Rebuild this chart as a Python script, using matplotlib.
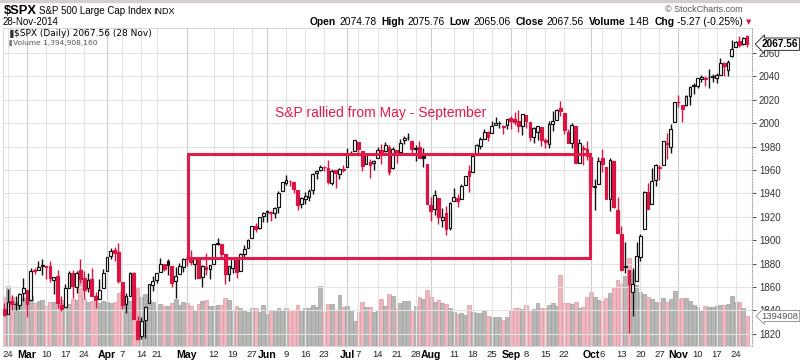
import numpy as np
import pandas as pd
import matplotlib
matplotlib.use("Agg")
import matplotlib.pyplot as plt
from matplotlib.patches import Rectangle
import matplotlib.transforms as mtransforms

plt.rcParams['font.family'] = ['Liberation Sans', 'DejaVu Sans']

# ---------------- data ----------------
holidays = ['2014-04-18', '2014-05-26', '2014-07-04', '2014-09-01', '2014-11-27']
dates = pd.bdate_range('2014-02-21', '2014-11-28')
dates = dates[~dates.isin(pd.to_datetime(holidays))]

prev_close = 1839.78  # close of 2014-02-20

open_p = [
    1841.07, 1836.78, 1847.66, 1845.79, 1844.90, 1855.12,
    1857.68, 1849.23, 1874.05, 1874.18, 1878.52, 1877.86, 1878.26, 1866.15, 1869.06, 1845.07, 1842.81, 1858.92, 1872.25, 1860.09, 1874.53, 1867.67, 1859.48, 1867.09, 1852.11, 1850.07, 1859.16,
    1873.96, 1886.61, 1891.43, 1890.25, 1863.92, 1845.48, 1852.64, 1872.28, 1830.65, 1818.18, 1831.45, 1846.01, 1861.73, 1865.79, 1872.57, 1879.32, 1881.97, 1877.72, 1865.00, 1870.78, 1877.10,
    1884.39, 1885.30, 1879.45, 1883.69, 1868.53, 1877.39, 1875.27, 1880.03, 1896.75, 1897.13, 1888.16, 1871.19, 1876.66, 1884.88, 1873.34, 1888.19, 1893.32, 1902.01, 1911.77, 1910.60, 1920.33,
    1923.87, 1923.07, 1923.06, 1928.52, 1942.41, 1948.97, 1950.34, 1949.37, 1943.35, 1930.80, 1934.84, 1937.15, 1942.73, 1957.50, 1960.45, 1962.92, 1961.97, 1949.27, 1959.89, 1956.56, 1960.79,
    1962.29, 1973.06, 1975.88, 1984.22, 1976.39, 1965.10, 1966.67, 1965.76, 1969.86, 1977.36, 1976.35, 1979.75, 1961.54, 1976.93, 1975.65, 1985.32, 1988.07, 1984.60, 1978.25, 1980.03, 1973.21, 1965.14,
    1929.80, 1926.62, 1936.34, 1917.29, 1923.03, 1910.35, 1933.43, 1935.73, 1935.60, 1947.41, 1958.87, 1958.36, 1972.73, 1980.46, 1986.82, 1992.60, 1991.74, 1998.59, 2000.54, 1997.42, 1998.45,
    2004.07, 2003.57, 2001.67, 1998.00, 2007.17, 2000.73, 1988.41, 1992.85, 1996.74, 1986.04, 1981.93, 1999.30, 2003.07, 2012.74, 2009.08, 1992.78, 1983.34, 1997.32, 1966.22, 1978.96, 1978.21,
    1971.44, 1945.83, 1948.12, 1970.01, 1962.36, 1935.55, 1967.68, 1925.63, 1905.65, 1877.11, 1874.18, 1855.95, 1864.91, 1885.62, 1909.38, 1941.29, 1931.02, 1951.59, 1962.97, 1964.14, 1983.29, 1979.49, 2001.20,
    2018.21, 2015.81, 2015.29, 2023.33, 2032.36, 2032.01, 2038.20, 2037.75, 2039.21, 2039.74, 2038.29, 2041.48, 2051.16, 2045.87, 2057.46, 2065.07, 2070.15, 2067.36, 2074.78,
]
high_p = [
    1846.13, 1858.71, 1852.91, 1852.65, 1854.53, 1867.92,
    1857.68, 1876.23, 1876.53, 1881.94, 1883.57, 1877.87, 1882.35, 1868.38, 1874.40, 1852.44, 1862.30, 1873.76, 1874.14, 1873.49, 1883.97, 1873.34, 1871.87, 1875.92, 1855.55, 1866.63, 1875.18,
    1885.84, 1893.17, 1893.80, 1897.28, 1864.04, 1854.95, 1872.43, 1872.53, 1835.07, 1834.19, 1844.02, 1862.31, 1869.63, 1871.89, 1884.89, 1879.75, 1884.06, 1877.72, 1877.01, 1880.60, 1885.20,
    1888.59, 1891.33, 1885.51, 1883.69, 1878.83, 1889.07, 1878.57, 1897.13, 1902.17, 1897.13, 1888.16, 1878.28, 1886.00, 1884.88, 1888.80, 1896.33, 1901.26, 1912.28, 1914.46, 1920.03, 1924.03,
    1925.88, 1924.97, 1928.63, 1941.74, 1949.44, 1955.55, 1951.86, 1949.37, 1943.35, 1937.30, 1941.15, 1943.69, 1957.74, 1959.87, 1963.91, 1963.74, 1968.17, 1960.83, 1959.89, 1961.47, 1964.24,
    1978.58, 1976.67, 1985.59, 1984.22, 1976.39, 1974.15, 1969.84, 1968.67, 1979.85, 1982.52, 1983.94, 1981.80, 1979.91, 1976.93, 1986.24, 1989.23, 1991.39, 1984.60, 1981.52, 1984.85, 1978.90, 1965.14,
    1937.35, 1942.92, 1936.34, 1927.91, 1928.89, 1932.38, 1944.90, 1939.65, 1948.41, 1955.23, 1964.04, 1971.99, 1982.57, 1988.57, 1994.76, 1993.54, 2001.95, 2005.04, 2002.14, 1998.55, 2003.38,
    2006.12, 2009.28, 2011.17, 2007.71, 2007.17, 2001.01, 1996.66, 1997.65, 1996.74, 1987.18, 2002.28, 2010.74, 2012.34, 2019.26, 2009.08, 1995.41, 1999.79, 1997.32, 1986.37, 1981.28, 1985.17,
    1971.44, 1952.32, 1971.19, 1977.84, 1962.36, 1970.36, 1967.68, 1936.98, 1912.09, 1898.71, 1874.18, 1876.01, 1898.16, 1905.03, 1942.45, 1949.31, 1961.95, 1965.27, 1964.64, 1985.05, 1991.40, 1999.40, 2018.19,
    2024.46, 2015.98, 2023.77, 2031.61, 2034.26, 2038.70, 2041.28, 2040.33, 2046.18, 2042.22, 2043.07, 2056.08, 2052.14, 2053.84, 2071.46, 2070.17, 2074.21, 2073.29, 2075.76,
]
low_p = [
    1835.60, 1836.78, 1840.19, 1840.66, 1841.13, 1847.67,
    1834.44, 1849.23, 1871.11, 1874.18, 1870.56, 1867.04, 1863.88, 1854.38, 1841.86, 1839.57, 1842.81, 1858.92, 1850.35, 1854.63, 1863.46, 1849.69, 1855.96, 1852.56, 1842.11, 1850.07, 1859.16,
    1873.96, 1883.79, 1882.65, 1863.26, 1841.48, 1837.49, 1852.38, 1833.08, 1814.36, 1815.80, 1816.29, 1846.01, 1856.72, 1863.18, 1872.57, 1873.91, 1870.24, 1859.70, 1850.61, 1870.78, 1872.69,
    1878.04, 1878.50, 1866.77, 1867.72, 1859.79, 1870.05, 1867.02, 1880.03, 1896.06, 1885.77, 1862.36, 1864.82, 1872.42, 1868.14, 1873.34, 1885.39, 1893.32, 1902.01, 1907.30, 1909.82, 1915.98,
    1915.98, 1916.64, 1918.60, 1922.93, 1942.41, 1947.16, 1946.34, 1940.08, 1925.78, 1927.69, 1930.91, 1933.55, 1939.29, 1952.26, 1959.17, 1958.89, 1948.34, 1947.49, 1944.69, 1952.18, 1958.22,
    1962.29, 1972.58, 1975.88, 1974.88, 1959.46, 1965.10, 1952.86, 1959.63, 1969.86, 1965.34, 1975.67, 1955.59, 1960.82, 1965.77, 1975.65, 1982.44, 1985.79, 1974.37, 1967.31, 1969.95, 1962.42, 1930.67,
    1916.37, 1921.20, 1913.77, 1911.45, 1904.78, 1909.01, 1933.43, 1928.29, 1935.60, 1947.41, 1941.50, 1958.36, 1972.73, 1977.68, 1986.82, 1984.76, 1991.74, 1998.59, 1996.20, 1990.52, 1994.65,
    1994.85, 1998.14, 1992.54, 1990.10, 1995.60, 1984.61, 1982.99, 1985.93, 1980.26, 1978.48, 1979.06, 1993.29, 2003.07, 2006.59, 1991.01, 1982.77, 1978.63, 1965.99, 1966.22, 1964.04, 1968.96,
    1941.72, 1926.03, 1948.12, 1958.43, 1935.10, 1925.25, 1927.56, 1906.05, 1874.14, 1871.79, 1820.66, 1835.02, 1864.91, 1882.30, 1909.38, 1926.83, 1931.02, 1946.27, 1951.37, 1964.14, 1969.04, 1974.75, 2001.20,
    2013.68, 2001.01, 2014.42, 2015.86, 2025.07, 2030.17, 2035.28, 2031.95, 2030.44, 2035.20, 2034.46, 2041.48, 2040.37, 2040.49, 2056.75, 2065.07, 2064.75, 2066.62, 2065.06,
]
close_p = [
    1836.25, 1847.61, 1845.12, 1845.16, 1854.29, 1859.45,
    1845.73, 1873.91, 1873.81, 1877.03, 1878.04, 1877.17, 1867.63, 1868.20, 1846.34, 1841.13, 1858.83, 1872.25, 1860.77, 1872.01, 1866.52, 1857.44, 1865.62, 1852.56, 1849.04, 1857.62, 1872.34,
    1885.52, 1890.90, 1888.77, 1865.09, 1845.04, 1851.96, 1872.18, 1833.08, 1815.69, 1830.61, 1842.98, 1862.31, 1864.85, 1871.89, 1879.55, 1875.39, 1878.61, 1863.40, 1869.43, 1878.33, 1883.95,
    1883.68, 1881.14, 1884.66, 1867.72, 1878.21, 1875.63, 1878.48, 1896.65, 1897.45, 1888.53, 1870.85, 1877.86, 1885.08, 1872.83, 1888.03, 1892.49, 1900.53, 1911.91, 1909.78, 1920.03, 1923.57,
    1924.97, 1924.24, 1927.88, 1940.46, 1949.44, 1951.27, 1950.79, 1943.89, 1930.11, 1936.16, 1937.78, 1941.99, 1956.98, 1959.48, 1962.87, 1962.61, 1949.98, 1959.53, 1957.22, 1960.96, 1960.23,
    1973.32, 1974.62, 1985.44, 1977.65, 1963.71, 1972.83, 1964.68, 1967.57, 1977.10, 1973.28, 1981.57, 1958.12, 1978.22, 1973.63, 1983.53, 1987.01, 1987.98, 1978.34, 1978.91, 1969.95, 1970.07, 1930.67,
    1925.15, 1938.99, 1920.21, 1920.24, 1909.57, 1931.59, 1936.92, 1933.75, 1946.72, 1955.18, 1955.06, 1971.74, 1981.60, 1986.51, 1992.37, 1988.40, 1997.92, 2000.02, 2000.12, 1996.74, 2003.37,
    2002.28, 2000.72, 1997.65, 2007.71, 2001.54, 1988.44, 1995.69, 1997.45, 1985.54, 1984.13, 1998.98, 2001.57, 2011.36, 2010.40, 1994.29, 1982.77, 1998.30, 1965.99, 1982.85, 1977.80, 1972.29,
    1946.16, 1946.17, 1967.90, 1964.82, 1935.10, 1968.89, 1928.21, 1906.13, 1874.74, 1877.70, 1862.49, 1862.76, 1886.76, 1904.01, 1941.28, 1927.11, 1950.82, 1964.58, 1961.63, 1985.05, 1982.30, 1994.65, 2018.05,
    2017.81, 2012.10, 2023.57, 2031.21, 2031.92, 2038.26, 2039.68, 2038.25, 2039.33, 2039.82, 2041.32, 2051.80, 2048.72, 2052.75, 2063.50, 2069.41, 2067.03, 2072.83, 2067.56,
]
volume_b = [  # billions of shares
    2.28, 2.79, 2.28, 2.05, 2.00, 2.23,
    2.14, 2.33, 2.00, 2.09, 2.14, 1.86, 2.05, 2.05, 2.33, 2.14, 2.00, 1.95, 2.19, 2.14, 3.53, 2.19, 2.05, 2.09, 2.05, 2.00, 2.09,
    2.05, 2.00, 2.05, 2.47, 2.56, 2.23, 2.09, 2.60, 2.70, 2.28, 2.42, 2.14, 2.05, 1.67, 1.95, 1.86, 1.86, 2.00, 2.19, 1.91, 2.05,
    2.00, 1.86, 1.67, 1.95, 2.09, 2.14, 1.86, 1.86, 1.91, 1.91, 2.23, 2.14, 1.67, 1.86, 1.77, 1.67, 1.58, 1.77, 1.77, 1.58, 1.91,
    1.47, 1.67, 1.67, 1.77, 1.63, 1.75, 1.67, 1.67, 1.91, 1.67, 1.77, 1.75, 1.91, 1.81, 2.79, 1.58, 1.94, 1.94, 1.67, 2.37, 1.80,
    1.86, 1.67, 1.16, 1.58, 2.03, 1.81, 1.81, 1.57, 1.67, 2.17, 1.86, 2.42, 2.33, 1.72, 2.00, 2.09, 2.09, 1.67, 1.86, 2.28, 2.19, 2.60,
    2.28, 2.05, 2.14, 2.00, 1.95, 1.77, 1.58, 1.49, 1.53, 1.44, 1.91, 1.58, 1.53, 1.53, 1.63, 1.40, 1.35, 1.35, 1.35, 1.21, 1.35,
    1.67, 1.77, 1.77, 1.72, 1.91, 1.67, 1.72, 2.00, 1.77, 1.77, 1.91, 2.00, 1.86, 3.30, 2.00, 2.00, 1.95, 2.05, 1.77, 1.81, 2.28,
    2.51, 2.28, 2.14, 2.09, 2.23, 2.47, 2.70, 3.07, 2.88, 3.26, 4.09, 3.49, 2.84, 2.51, 2.42, 2.28, 2.19, 2.05, 2.05, 2.23, 2.05, 2.19, 2.56,
    2.19, 2.23, 2.23, 2.09, 1.91, 1.81, 1.67, 1.86, 1.81, 1.81, 1.86, 1.91, 1.91, 1.95, 2.33, 2.05, 2.05, 1.77, 1.394908,
]

tick_dates = ['2014-02-24', '2014-03-03', '2014-03-10', '2014-03-17', '2014-03-24', '2014-04-01',
              '2014-04-07', '2014-04-14', '2014-04-21', '2014-05-01', '2014-05-12', '2014-05-19',
              '2014-05-27', '2014-06-02', '2014-06-09', '2014-06-16', '2014-06-23', '2014-07-01',
              '2014-07-07', '2014-07-14', '2014-07-21', '2014-07-28', '2014-08-01', '2014-08-11',
              '2014-08-18', '2014-08-25', '2014-09-02', '2014-09-08', '2014-09-15', '2014-09-22',
              '2014-10-01', '2014-10-06', '2014-10-13', '2014-10-20', '2014-10-27', '2014-11-03',
              '2014-11-10', '2014-11-17', '2014-11-24']
tick_labels = ['24', 'Mar', '10', '17', '24', 'Apr', '7', '14', '21', 'May', '12', '19', '27',
               'Jun', '9', '16', '23', 'Jul', '7', '14', '21', '28', 'Aug', '11', '18', '25',
               'Sep', '8', '15', '22', 'Oct', '6', '13', '20', '27', 'Nov', '10', '17', '24']
price_ticks = [1820, 1840, 1860, 1880, 1900, 1920, 1940, 1960, 1980, 2000, 2020, 2040, 2060]

# ---------------- figure ----------------
W, H = 800, 361
fig = plt.figure(figsize=(W / 100, H / 100), dpi=100)
fig.patch.set_facecolor('white')

def fx(px):
    return px / W

def fy(py):
    return 1 - py / H

L_PX, R_PX, T_PX, B_PX = 3, 752, 28, 346
pos = [fx(L_PX), fy(B_PX), fx(R_PX) - fx(L_PX), fy(T_PX) - fy(B_PX)]

o = np.array(open_p); h = np.array(high_p); l = np.array(low_p); c = np.array(close_p)
v = np.array(volume_b)
n = len(c)
x = np.arange(n)
pc = np.concatenate([[prev_close], c[:-1]])
down_day = c < pc

RED = '#dc1443'
BOX_RED = '#e31b4c'

# volume axis (underneath)
axv = fig.add_axes(pos)
vcol = np.where(down_day, '#f0b6c0', '#b6b8b6')
vedge = np.where(down_day, '#e098a5', '#9fa19f')
axv.bar(x, v, width=1.0, color=vcol, edgecolor=vedge, linewidth=0.5, zorder=2)
axv.set_ylim(0, (B_PX - T_PX) / 21.5)
axv.set_xlim(-0.31, 196.3)
axv.axis('off')

# price axis (on top)
ax = fig.add_axes(pos, sharex=axv)
ax.patch.set_visible(False)
ax.set_xlim(-0.31, 196.3)
ax.set_ylim(1809.6, 2081.4)

tick_pos = [dates.get_loc(pd.Timestamp(d)) for d in tick_dates]
for tp, tl in zip(tick_pos, tick_labels):
    is_month = not tl.isdigit()
    ax.axvline(tp, color='#cdcdcd' if is_month else '#e3e3e3', lw=0.8, zorder=1)
for pt in price_ticks:
    ax.axhline(pt, color='#e3e3e3', lw=0.8, zorder=1)

# candles
ccol = np.where(down_day, RED, '#111111')
face = np.where(c < o, ccol, 'white')
ax.vlines(x, l, h, colors=ccol, lw=1.0, zorder=3)
body_low = np.minimum(o, c)
body_h = np.maximum(np.abs(c - o), 0.35)
ax.bar(x, body_h, bottom=body_low, width=0.72, color=face, edgecolor=ccol,
       linewidth=0.85, zorder=4)

# annotation box and text
rx0, rx1, ry0, ry1 = 48.3, 153.9, 1884.7, 1973.5
ax.add_patch(Rectangle((rx0, ry0), rx1 - rx0, ry1 - ry0, fill=False,
                       edgecolor=BOX_RED, lw=2.2, zorder=5))
ax.text(71.1, 2009.0, 'S&P rallied from May - September', color=BOX_RED,
        fontsize=10, ha='left', va='center', zorder=6)

# axes styling
ax.yaxis.tick_right()
ax.set_yticks(price_ticks)
ax.set_yticklabels([str(t) for t in price_ticks])
ax.tick_params(axis='y', labelsize=7, colors='#333333', length=3, width=0.6, pad=2)
ax.set_xticks(tick_pos)
ax.set_xticklabels(tick_labels)
ax.tick_params(axis='x', length=0, pad=3, labelsize=6.8, colors='#222222')
for lab in ax.get_xticklabels():
    if not lab.get_text().isdigit():
        lab.set_fontweight('bold')
        lab.set_fontsize(7.6)
        lab.set_color('black')
for side in ['left', 'top', 'bottom']:
    ax.spines[side].set_color('#d0d0d0')
    ax.spines[side].set_linewidth(0.6)
ax.spines['right'].set_color('#aaaaaa')
ax.spines['right'].set_linestyle((0, (1, 1.5)))
ax.spines['right'].set_linewidth(0.8)

# right-side value flags (drawn on the top axes so they cover tick labels)
tr = mtransforms.blended_transform_factory(ax.transAxes, ax.transData)
ax.text(1.013, c[-1], f'{c[-1]:.2f}', transform=tr, ha='left', va='center',
        fontsize=7.2, fontweight='bold', color='black', zorder=10, clip_on=False,
        bbox=dict(boxstyle='larrow,pad=0.12', fc='white', ec='#333333', lw=0.7))
trv = mtransforms.blended_transform_factory(ax.transAxes, axv.transData)
ax.text(1.013, v[-1], f'{v[-1] * 1e6:.0f}', transform=trv, ha='left', va='center',
        fontsize=6.8, color='#555555', zorder=10, clip_on=False,
        bbox=dict(boxstyle='larrow,pad=0.1', fc='white', ec='#888888', lw=0.6))

# ---------------- header texts ----------------
fig.patches.append(Rectangle((0, fy(2)), 1, 2 / H, transform=fig.transFigure,
                             color='#d3ccd3', zorder=0))
fig.text(fx(4), fy(11), '$SPX', fontsize=9.3, fontweight='bold', va='center', ha='left')
fig.text(fx(39), fy(11), 'S&P 500 Large Cap Index', fontsize=7, va='center', ha='left')
fig.text(fx(153), fy(11), 'INDX', fontsize=6.5, va='center', ha='left')
fig.text(fx(3), fy(22), '28-Nov-2014', fontsize=7, va='center', ha='left')
fig.text(fx(743), fy(10), '\u00a9 StockCharts.com', fontsize=6.5, va='center', ha='right',
         color='#555555')

renderer = fig.canvas.get_renderer()
pieces = [('Open', True), ('2074.78', False), ('High', True), ('2075.76', False),
          ('Low', True), ('2065.06', False), ('Close', True), ('2067.56', False),
          ('Volume', True), ('1.4B', False), ('Chg', True), ('-5.27 (-0.25%)', False)]
xr = 743
fig.text(fx(751), fy(22), '\u25bc', fontsize=5, color=RED, va='center', ha='right',
         family=['DejaVu Sans'])
for s, bold in reversed(pieces):
    t = fig.text(fx(xr), fy(22), s, fontsize=7.4, fontweight='bold' if bold else 'normal',
                 va='center', ha='right', color='black')
    wpx = t.get_window_extent(renderer).width
    gap = 3 if not bold else 5
    xr -= wpx + gap

# inside-panel legend texts
fig.text(fx(7), fy(34), '\u2590', fontsize=6, va='center', ha='left', color='#333333',
         family=['DejaVu Sans'])
fig.text(fx(14), fy(34), '$SPX (Daily) 2067.56 (28 Nov)', fontsize=6.5, va='center', ha='left',
         family=['DejaVu Sans'], color='black')
fig.text(fx(7), fy(43), '\u2590', fontsize=4.5, va='center', ha='left', color='#777777',
         family=['DejaVu Sans'])
fig.text(fx(13), fy(43), 'Volume 1,394,908,160', fontsize=5.4, va='center', ha='left',
         family=['DejaVu Sans'], color='#555555')

fig.savefig('out.png', dpi=100, facecolor='white')
